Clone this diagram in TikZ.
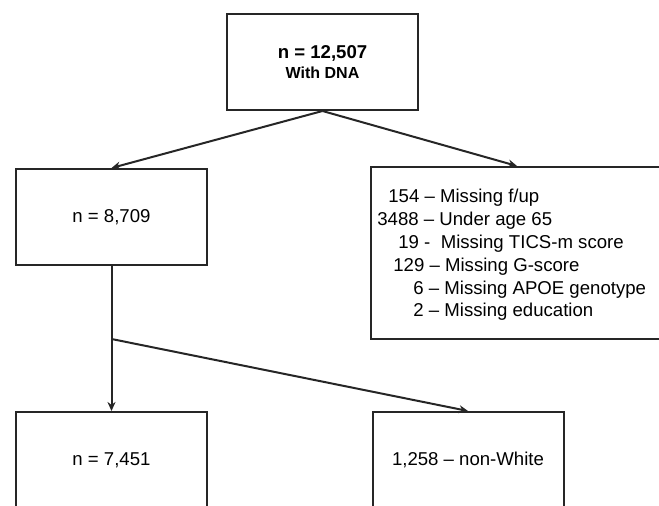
\documentclass[tikz,border=0pt]{standalone}
\usepackage{fontspec}
\setmainfont{Liberation Sans}
\usetikzlibrary{arrows.meta}

\tikzstyle{box} = [draw, line width = 1pt, minimum width = 95.5pt, minimum height = 48pt, inner sep = 0pt, font = \fontsize{9.3}{11.4}\selectfont]
\tikzstyle{flow} = [line width = 1pt, -{Stealth[length = 4.5pt, width = 4pt]}]

\begin{document}
\begin{tikzpicture}[x = 0.5pt, y = -0.5pt, draw = black!85]
      \useasboundingbox (0, 0) rectangle (659, 506);
      \clip (0, 0) rectangle (659, 506);

      % Boxes
      \node[box, align = center] (dna) at (322.5, 62)
        {\textbf{n = 12,507}\\[-1.5pt]{\fontsize{8}{10}\selectfont\bfseries With DNA}};
      \node[box] (all) at (111.5, 217) {n = 8,709};
      \node[box, minimum width = 146pt, minimum height = 86pt] (excl) at (517, 253) {};
      \node[box] (white) at (111.5, 460) {n = 7,451};
      \node[box] (nonwhite) at (468, 460) {1,258 -- non-White};

      % Exclusions
      \node[anchor = west, align = left, inner sep = 0pt, font = \fontsize{9.3}{11.4}\selectfont]
        (reasons) at (377, 255)
        {\hspace*{5.5pt}154 -- Missing f/up\\
         3488 -- Under age 65\\
         \hspace*{10.5pt}19 -\ \ Missing TICS-m score\\
         \hspace*{8pt}129 -- Missing G-score\\
         \hspace*{18pt}6 -- Missing APOE genotype\\
         \hspace*{18pt}2 -- Missing education};

      % Arrows
      \draw[flow] (dna.south) -- (all.north);
      \draw[flow] (dna.south) -- (excl.north);
      \coordinate (split) at (111.5, 339);
      \draw[flow] (all.south) -- (white.north);
      \draw[flow] (split) -- (nonwhite.north);
    \end{tikzpicture}
\end{document}
